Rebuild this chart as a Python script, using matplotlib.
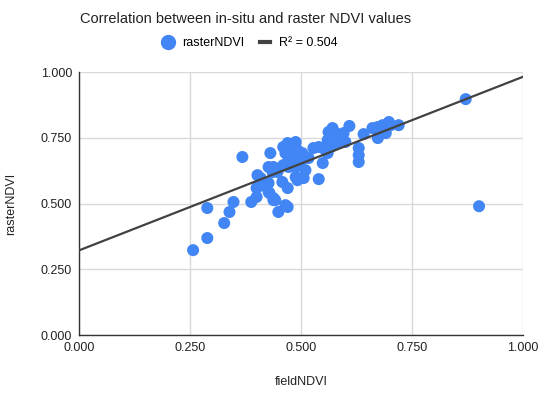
import matplotlib.pyplot as plt
from matplotlib.lines import Line2D
import numpy as np

plt.rcParams['font.family'] = ['Liberation Sans', 'DejaVu Sans']

field_ndvi = [0.257, 0.289, 0.289, 0.327, 0.339, 0.348, 0.368, 0.388, 0.400, 0.402,
              0.402, 0.409, 0.427, 0.429, 0.442, 0.449, 0.470, 0.458, 0.470, 0.427,
              0.431, 0.438, 0.447, 0.460, 0.470, 0.483, 0.488, 0.492, 0.503, 0.517,
              0.499, 0.472, 0.460, 0.488, 0.488, 0.506, 0.510, 0.438, 0.465, 0.540,
              0.549, 0.528, 0.540, 0.560, 0.562, 0.571, 0.578, 0.589, 0.596, 0.600,
              0.582, 0.567, 0.555, 0.560, 0.609, 0.641, 0.630, 0.630, 0.630, 0.661,
              0.673, 0.684, 0.698, 0.702, 0.720, 0.691, 0.673, 0.483, 0.465, 0.472,
              0.871, 0.901, 0.413, 0.400, 0.427, 0.438, 0.470, 0.492, 0.436]
raster_ndvi = [0.323, 0.369, 0.483, 0.426, 0.468, 0.506, 0.677, 0.506, 0.525, 0.563,
               0.608, 0.597, 0.578, 0.540, 0.513, 0.468, 0.487, 0.582, 0.559, 0.639,
               0.692, 0.639, 0.620, 0.715, 0.730, 0.715, 0.734, 0.703, 0.692, 0.673,
               0.658, 0.665, 0.646, 0.639, 0.601, 0.597, 0.627, 0.513, 0.494, 0.593,
               0.654, 0.711, 0.715, 0.741, 0.772, 0.787, 0.768, 0.753, 0.768, 0.734,
               0.730, 0.715, 0.703, 0.692, 0.795, 0.764, 0.711, 0.684, 0.658, 0.787,
               0.791, 0.798, 0.810, 0.798, 0.798, 0.768, 0.749, 0.677, 0.692, 0.639,
               0.897, 0.490, 0.570, 0.559, 0.544, 0.521, 0.692, 0.589, 0.620]

trend_slope = 0.66
trend_intercept = 0.322
r_squared = 0.504
ticks = [0.0, 0.25, 0.5, 0.75, 1.0]

point_color = '#4285F4'
line_color = '#424242'

fig = plt.figure(figsize=(5.5, 3.98), dpi=100)
ax = fig.add_axes([0.1436, 0.158, 0.8073, 0.661])

ax.scatter(field_ndvi, raster_ndvi, s=75, color=point_color, edgecolors='none', zorder=3)
xs = np.array([0.0, 1.0])
ax.plot(xs, trend_intercept + trend_slope * xs, color=line_color, lw=1.6, zorder=4)

ax.set_xlim(0, 1)
ax.set_ylim(0, 1)
ax.set_xticks(ticks)
ax.set_yticks(ticks)
ax.set_xticklabels([f'{t:.3f}' for t in ticks], fontsize=9)
ax.set_yticklabels([f'{t:.3f}' for t in ticks], fontsize=9)
ax.tick_params(length=0, pad=5, colors='#222222')
ax.grid(True, color='#d9d9d9', lw=1, zorder=0)
for side in ['top', 'right']:
    ax.spines[side].set_visible(False)
for side in ['left', 'bottom']:
    ax.spines[side].set_color('#333333')
    ax.spines[side].set_linewidth(1)

ax.set_xlabel('fieldNDVI', fontsize=9, labelpad=16, color='#222222')
ax.set_ylabel('rasterNDVI', fontsize=9, labelpad=17, color='#222222')

fig.text(0.447, 0.953, 'Correlation between in-situ and raster NDVI values',
         ha='center', va='center', fontsize=10.5, color='#222222')

handles = [Line2D([], [], marker='o', ls='none', color=point_color, markersize=10),
           Line2D([], [], color=line_color, lw=3)]
fig.legend(handles, ['rasterNDVI', f'R\u00b2 = {r_squared:.3f}'], loc='center',
           bbox_to_anchor=(0.455, 0.892), ncol=2, frameon=False, fontsize=9,
           handlelength=0.8, handletextpad=0.7, columnspacing=1.3)

fig.savefig('out.png', dpi=100)
